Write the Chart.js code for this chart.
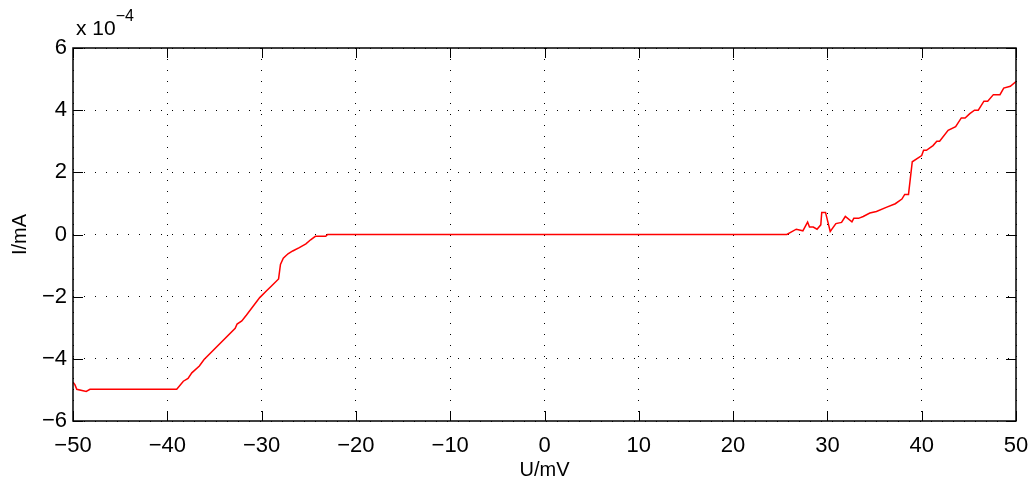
<!DOCTYPE html>
<html>
<head>
<meta charset="utf-8">
<script src="https://cdn.jsdelivr.net/npm/chart.js@4/dist/chart.umd.min.js"></script>
<style>
  html, body { margin: 0; padding: 0; background: #fff; }
  #wrap { width: 1035px; height: 486px; }
</style>
</head>
<body>
<div id="wrap"><canvas id="chart"></canvas></div>
<script>
// U in mV, I in units of 1e-4 mA
const voltage = [-50, -49.8, -49.6, -48.6, -48.2, -39.0, -38.3, -37.8, -37.4, -36.6, -36.1, -32.8, -32.6, -32.1, -31.6,
  -30.2, -29.5, -28.9, -28.2, -28.0, -27.7, -27.2, -26.7, -26.0, -25.3, -24.8, -24.3, -23.2, -23.0,
  25.7, 26.7, 27.4, 27.9, 28.1, 28.5, 28.9, 29.3, 29.4, 29.8, 30.3, 30.9, 31.5, 31.9, 32.6, 32.8, 33.3,
  33.8, 34.5, 35.2, 36.3, 37.2, 37.9, 38.2, 38.6, 39.0, 40.0, 40.2, 40.5, 41.2, 41.6, 41.9, 42.8, 43.6,
  44.2, 44.6, 45.1, 45.6, 46.0, 46.6, 47.0, 47.6, 48.3, 48.7, 49.4, 50];
const current = [-4.75, -4.83, -4.98, -5.05, -4.98, -4.98, -4.72, -4.63, -4.45, -4.23, -4.02, -3.02, -2.88, -2.78, -2.59,
  -2.03, -1.82, -1.64, -1.43, -0.96, -0.76, -0.62, -0.53, -0.42, -0.30, -0.17, -0.06, -0.06, 0,
  0, 0.17, 0.12, 0.40, 0.24, 0.24, 0.17, 0.31, 0.71, 0.71, 0.10, 0.35, 0.39, 0.58, 0.41, 0.52, 0.52,
  0.58, 0.69, 0.74, 0.88, 0.99, 1.14, 1.29, 1.29, 2.34, 2.54, 2.71, 2.71, 2.86, 3.0, 3.0, 3.35, 3.47,
  3.75, 3.75, 3.89, 4.0, 4.0, 4.29, 4.29, 4.5, 4.5, 4.71, 4.77, 4.92];
const xTicks = [-50, -40, -30, -20, -10, 0, 10, 20, 30, 40, 50];
const yTicks = [-6, -4, -2, 0, 2, 4, 6];
const exponentLabel = ['x 10', '\u22124'];

const points = voltage.map((u, i) => ({ x: u, y: current[i] }));
const FONT = 'Liberation Sans, Arial, Helvetica, sans-serif';
const minus = v => String(v).replace('-', '\u2212');

// box, inward ticks and exponent label, MATLAB style
const framePlugin = {
  id: 'frame',
  afterDraw(chart) {
    const ctx = chart.ctx;
    const a = chart.chartArea;
    const xs = chart.scales.x, ys = chart.scales.y;
    ctx.save();
    ctx.strokeStyle = '#000';
    ctx.lineWidth = 1.5;
    ctx.strokeRect(a.left, a.top, a.right - a.left, a.bottom - a.top);
    ctx.lineWidth = 1;
    ctx.beginPath();
    const len = 10;
    xTicks.forEach(t => {
      const px = Math.round(xs.getPixelForValue(t)) + 0.5;
      ctx.moveTo(px, a.bottom); ctx.lineTo(px, a.bottom - len);
      ctx.moveTo(px, a.top); ctx.lineTo(px, a.top + len);
    });
    yTicks.forEach(t => {
      const py = Math.round(ys.getPixelForValue(t)) + 0.5;
      ctx.moveTo(a.left, py); ctx.lineTo(a.left + len, py);
      ctx.moveTo(a.right, py); ctx.lineTo(a.right - len, py);
    });
    ctx.stroke();
    ctx.fillStyle = '#000';
    ctx.textBaseline = 'alphabetic';
    ctx.font = '21px ' + FONT;
    ctx.fillText(exponentLabel[0], a.left + 3, 35);
    const w = ctx.measureText(exponentLabel[0]).width;
    ctx.font = '16px ' + FONT;
    ctx.fillText(exponentLabel[1], a.left + 3 + w, 21);
    ctx.restore();
  }
};

new Chart(document.getElementById('chart'), {
  type: 'scatter',
  data: {
    datasets: [{
      data: points,
      showLine: true,
      borderColor: 'rgb(255, 0, 0)',
      borderWidth: 1.5,
      pointRadius: 0,
      tension: 0
    }]
  },
  options: {
    responsive: true,
    maintainAspectRatio: false,
    animation: false,
    layout: { padding: { top: 48, right: 19, left: 8, bottom: 0 } },
    plugins: { legend: { display: false }, tooltip: { enabled: false } },
    scales: {
      x: {
        type: 'linear',
        min: -50, max: 50,
        afterBuildTicks: s => { s.ticks = xTicks.map(v => ({ value: v })); },
        afterFit: s => { s.height = 65; s.paddingLeft = 0; s.paddingRight = 0; },
        border: { display: false, dash: [1, 10] },
        grid: { color: '#000', lineWidth: 1, drawTicks: false },
        ticks: { color: '#000', font: { family: FONT, size: 22 }, padding: 12, maxRotation: 0, callback: v => minus(v) },
        title: { display: true, text: 'U/mV', color: '#000', font: { family: FONT, size: 20 }, padding: { top: 0, bottom: 4 } }
      },
      y: {
        min: -6, max: 6,
        afterBuildTicks: s => { s.ticks = yTicks.map(v => ({ value: v })); },
        afterFit: s => { s.width = 65; },
        border: { display: false, dash: [1, 10] },
        grid: { color: '#000', lineWidth: 1, drawTicks: false },
        ticks: { color: '#000', font: { family: FONT, size: 22 }, padding: 6, callback: v => minus(v) },
        title: { display: true, text: 'I/mA', color: '#000', font: { family: FONT, size: 20 }, padding: { top: 0, bottom: 0 } }
      }
    }
  },
  plugins: [framePlugin]
});
</script>
</body>
</html>
